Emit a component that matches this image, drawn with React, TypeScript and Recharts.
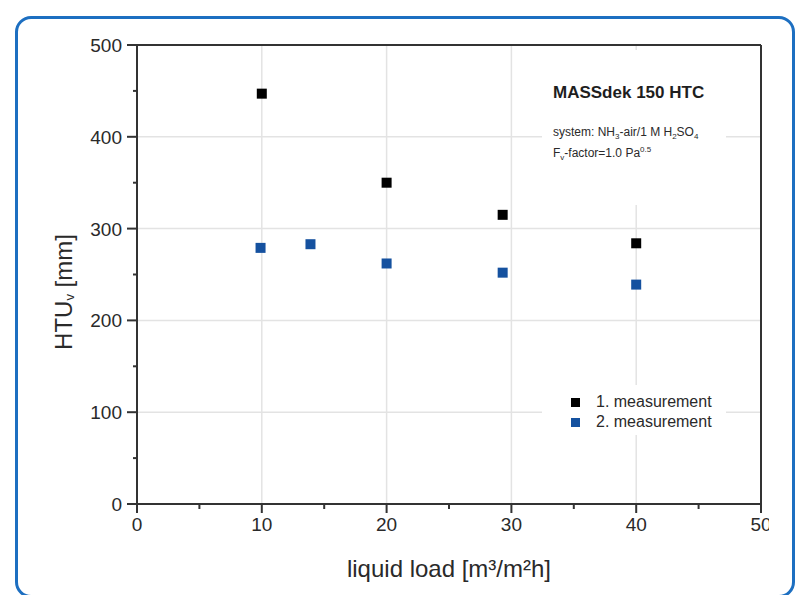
import React from "react";
import {
  ScatterChart,
  Scatter,
  XAxis,
  YAxis,
  CartesianGrid,
  ReferenceLine,
  Legend,
} from "recharts";

// ---- data ----
const m1Load = [10.0, 20.0, 29.3, 40.0];
const m1Htu = [447, 350, 315, 284];
const m2Load = [9.9, 13.9, 20.0, 29.3, 40.0];
const m2Htu = [279, 283, 262, 252, 239];

const xTicks = [0, 5, 10, 15, 20, 25, 30, 35, 40, 45, 50];
const yTicks = [0, 50, 100, 150, 200, 250, 300, 350, 400, 450, 500];
const xGrid = [10, 20, 30, 40];
const yGrid = [100, 200, 300, 400];

const seriesNames = ["1. measurement", "2. measurement"];
const seriesColors = ["#000000", "#15519f"];

const m1 = m1Load.map((x, i) => ({ x, y: m1Htu[i] }));
const m2 = m2Load.map((x, i) => ({ x, y: m2Htu[i] }));

const FONT = "'Liberation Sans', Arial, Helvetica, sans-serif";
const AXIS = "#333333";
const TXT = "#2a2a2a";

const XTick = (props: any) => {
  const { x, y, payload } = props;
  const major = payload.value % 10 === 0;
  return (
    <g>
      <line x1={x} x2={x} y1={y} y2={y + (major ? 9 : 5)} stroke={AXIS} strokeWidth={2} />
      {major && (
        <text x={x} y={y + 27} textAnchor="middle" fontSize={19} fill={TXT} fontFamily={FONT}>
          {payload.value}
        </text>
      )}
    </g>
  );
};

const YTick = (props: any) => {
  const { x, y, payload } = props;
  const major = payload.value % 100 === 0;
  return (
    <g>
      <line x1={x} x2={x - (major ? 10 : 4)} y1={y} y2={y} stroke={AXIS} strokeWidth={2} />
      {major && (
        <text x={x - 15} y={y + 7} textAnchor="end" fontSize={19} fill={TXT} fontFamily={FONT}>
          {payload.value}
        </text>
      )}
    </g>
  );
};

const YTitle = () => {
  const cx = 63;
  const cy = 292;
  return (
    <text
      x={cx}
      y={cy}
      transform={`rotate(-90 ${cx} ${cy})`}
      textAnchor="middle"
      dominantBaseline="central"
      fontSize={24}
      fill={TXT}
      fontFamily={FONT}
    >
      HTU
      <tspan fontSize={13} dy={6}>v</tspan>
      <tspan dy={-6}> [mm]</tspan>
    </text>
  );
};

const XTitle = (props: any) => {
  const vb = props.viewBox || {};
  const cx = (vb.x ?? 137) + (vb.width ?? 624) / 2;
  return (
    <text x={cx} y={577} textAnchor="middle" fontSize={24} fill={TXT} fontFamily={FONT}>
      liquid load [m³/m²h]
    </text>
  );
};

const square = (color: string) => (props: any) => {
  const { cx, cy } = props;
  return <rect x={cx - 5} y={cy - 5} width={10} height={10} fill={color} />;
};

const LegendBox = () => (
  <div
    style={{
      background: "#fff",
      width: 184,
      height: 50,
      fontFamily: FONT,
      fontSize: 16,
      color: TXT,
      paddingTop: 7,
      boxSizing: "border-box",
    }}
  >
    {seriesNames.map((n, i) => (
      <div key={n} style={{ display: "flex", alignItems: "center", height: 20 }}>
        <span
          style={{
            display: "inline-block",
            width: 9,
            height: 9,
            background: seriesColors[i],
            marginLeft: 29,
            marginRight: 16,
          }}
        />
        <span>{n}</span>
      </div>
    ))}
  </div>
);

export default function App() {
  return (
    <div
      style={{
        position: "absolute",
        left: 0,
        top: 0,
        width: 797,
        height: 595,
        overflow: "hidden",
        background: "#fff",
      }}
    >
      <div
        style={{
          position: "absolute",
          left: 15,
          top: 16,
          width: 780,
          height: 582,
          border: "3px solid #1d6fc1",
          borderRadius: 16,
          boxSizing: "border-box",
        }}
      />
      <div style={{ position: "absolute", left: 0, top: 0, width: 769, height: 595, overflow: "hidden" }}>
        <ScatterChart
          width={797}
          height={595}
          margin={{ top: 45, right: 36, bottom: 0, left: 0 }}
          style={{ fontFamily: FONT }}
        >
          <CartesianGrid
            stroke="#e3e3e3"
            strokeWidth={1.5}
            horizontalValues={yGrid}
            verticalValues={xGrid}
          />
          <XAxis
            type="number"
            dataKey="x"
            domain={[0, 50]}
            ticks={xTicks}
            tickSize={0}
            tickMargin={0}
            tick={<XTick />}
            height={91}
            axisLine={{ stroke: AXIS, strokeWidth: 2 }}
            interval={0}
            allowDataOverflow
            label={<XTitle />}
          />
          <YAxis
            type="number"
            dataKey="y"
            domain={[0, 500]}
            ticks={yTicks}
            tickSize={0}
            tickMargin={0}
            tick={<YTick />}
            width={137}
            axisLine={{ stroke: AXIS, strokeWidth: 2 }}
            interval={0}
            allowDataOverflow
            label={<YTitle />}
          />
          <ReferenceLine y={500} stroke={AXIS} strokeWidth={2} />
          <ReferenceLine x={50} stroke={AXIS} strokeWidth={2} />
          <Legend
            layout="vertical"
            align="center"
            verticalAlign="middle"
            content={<LegendBox />}
            wrapperStyle={{ left: 542, top: 385, width: 184, height: 50 }}
          />
          <Scatter
            name={seriesNames[0]}
            data={m1}
            fill={seriesColors[0]}
            shape={square(seriesColors[0])}
            isAnimationActive={false}
          />
          <Scatter
            name={seriesNames[1]}
            data={m2}
            fill={seriesColors[1]}
            shape={square(seriesColors[1])}
            isAnimationActive={false}
          />
        </ScatterChart>
        <div
          style={{
            position: "absolute",
            left: 542,
            top: 50,
            width: 184,
            height: 155,
            background: "#fff",
            fontFamily: FONT,
            color: TXT,
          }}
        >
          <div style={{ position: "absolute", left: 11, top: 33, fontSize: 17, fontWeight: "bold", color: "#1e1e1e", whiteSpace: "nowrap" }}>
            MASSdek 150 HTC
          </div>
          <div style={{ position: "absolute", left: 11, top: 75, fontSize: 12, whiteSpace: "nowrap" }}>
            system: NH<sub style={{ fontSize: 8 }}>3</sub>-air/1 M H<sub style={{ fontSize: 8 }}>2</sub>SO
            <sub style={{ fontSize: 8 }}>4</sub>
          </div>
          <div style={{ position: "absolute", left: 11, top: 95, fontSize: 12, whiteSpace: "nowrap" }}>
            F<sub style={{ fontSize: 8 }}>v</sub>-factor=1.0 Pa<sup style={{ fontSize: 8 }}>0.5</sup>
          </div>
        </div>
      </div>
    </div>
  );
}
